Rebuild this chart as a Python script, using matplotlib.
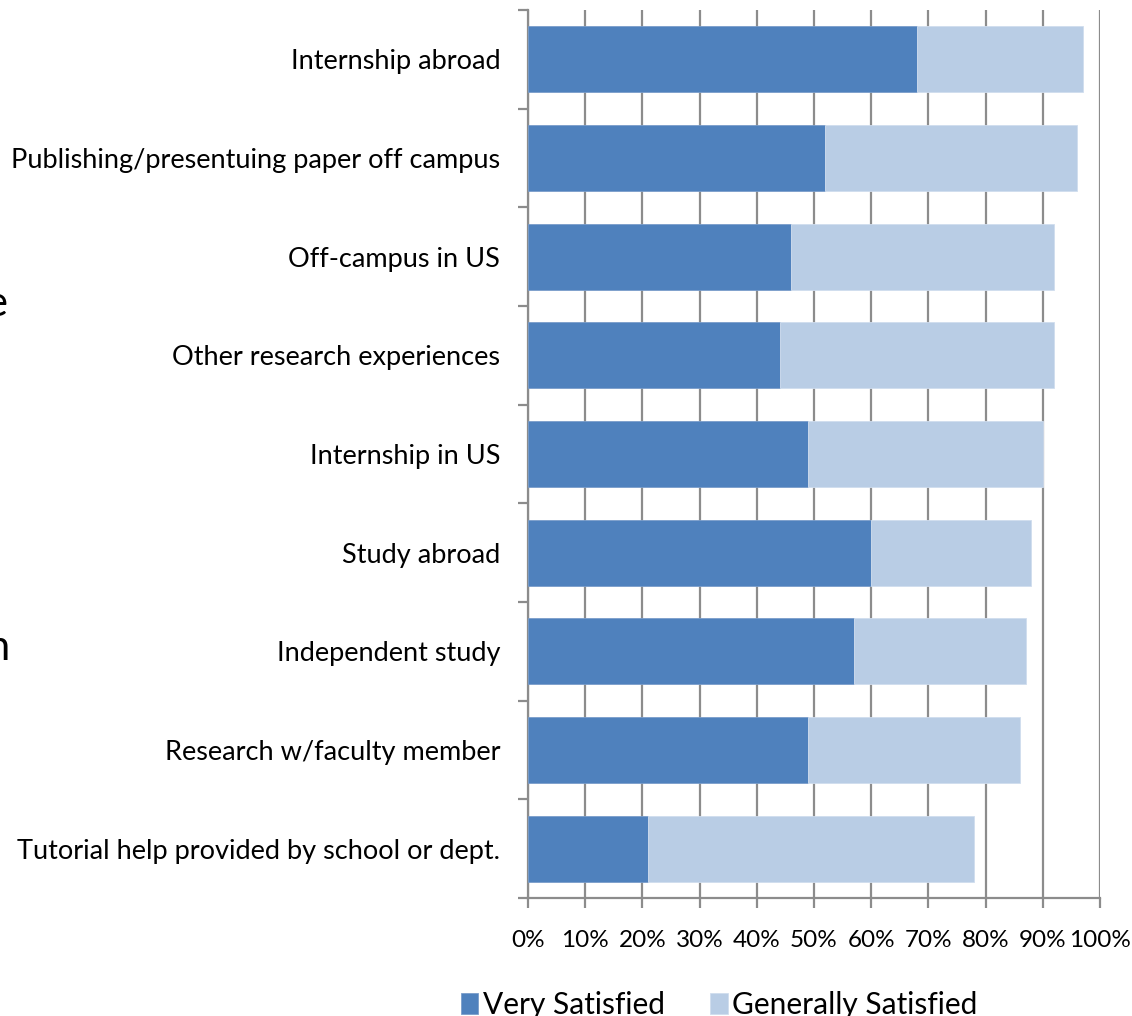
import matplotlib
matplotlib.use("Agg")
import matplotlib.pyplot as plt
from matplotlib.ticker import FixedLocator
import numpy as np

plt.rcParams['font.family'] = ['Lato', 'DejaVu Sans']

categories = [
    "Internship abroad",
    "Publishing/presentuing paper off campus",
    "Off-campus in US",
    "Other research experiences",
    "Internship in US",
    "Study abroad",
    "Independent study",
    "Research w/faculty member",
    "Tutorial help provided by school or dept.",
]
very_satisfied = [68, 52, 46, 44, 49, 60, 57, 49, 21]
generally_satisfied = [29, 44, 46, 48, 41, 28, 30, 37, 57]
xtick_values = [0, 10, 20, 30, 40, 50, 60, 70, 80, 90, 100]
xtick_labels = ["0%", "10%", "20%", "30%", "40%", "50%", "60%", "70%", "80%", "90%", "100%"]

W, H = 1132, 1016
fig = plt.figure(figsize=(W / 100, H / 100), dpi=100)
ax = fig.add_axes([528 / W, (H - 898) / H, 572 / W, 888 / H])

n = len(categories)
y = np.arange(n)[::-1]
dark = "#4F81BD"
light = "#B9CDE5"
ax.barh(y, very_satisfied, height=0.67, color=dark, edgecolor="#7A9DCB", linewidth=0.6,
        label="Very Satisfied", zorder=3)
ax.barh(y, generally_satisfied, left=very_satisfied, height=0.67, color=light,
        edgecolor="#D0DDEE", linewidth=0.6, label="Generally Satisfied", zorder=3)

ax.set_xlim(0, 100)
ax.set_ylim(-0.5, n - 0.5)
ax.set_xticks(xtick_values)
ax.set_xticklabels(xtick_labels)
ax.grid(axis="x", color="#8C8C8C", linewidth=1.6, zorder=0)
ax.set_yticks(y)
ax.set_yticklabels(categories)
ax.yaxis.set_minor_locator(FixedLocator(np.arange(-0.5, n, 1.0)))
ax.tick_params(axis="y", which="major", length=0, pad=20, labelsize=19.5)
ax.tick_params(axis="y", which="minor", length=7, width=1.6, color="#8C8C8C")
ax.tick_params(axis="x", which="major", length=7, width=1.6, color="#8C8C8C",
               labelsize=17.5, pad=16)
for s in ["top", "right"]:
    ax.spines[s].set_visible(False)
for s in ["left", "bottom"]:
    ax.spines[s].set_color("#8C8C8C")
    ax.spines[s].set_linewidth(1.6)

leg = fig.legend(loc="lower center", bbox_to_anchor=(719 / W, -30 / H), ncol=2, frameon=False,
                 fontsize=21.5, handlelength=0.6, handleheight=0.7, handletextpad=0.15,
                 columnspacing=1.5)

# partially visible characters cut off at the left edge
fig.text(-15 / W, 1 - 316 / H, "e", fontsize=30, ha="left", va="baseline")
fig.text(-14 / W, 1 - 660 / H, "n", fontsize=30, ha="left", va="baseline")

fig.savefig("out.png", dpi=100)
